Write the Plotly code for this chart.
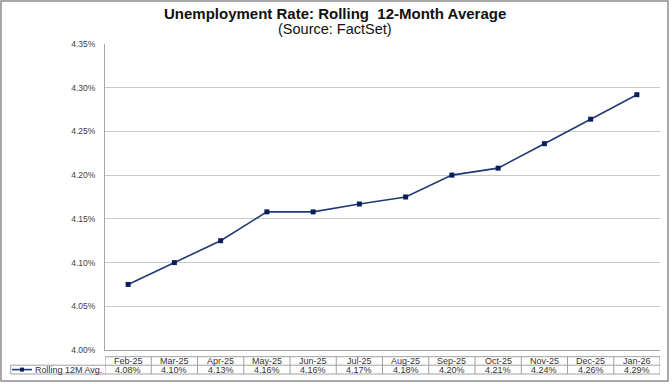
import plotly.graph_objects as go

months = ["Feb-25", "Mar-25", "Apr-25", "May-25", "Jun-25", "Jul-25",
          "Aug-25", "Sep-25", "Oct-25", "Nov-25", "Dec-25", "Jan-26"]
rolling_avg = [4.075, 4.100, 4.125, 4.158, 4.158, 4.167,
               4.175, 4.200, 4.208, 4.236, 4.264, 4.292]
table_labels = ["4.08%", "4.10%", "4.13%", "4.16%", "4.16%", "4.17%",
                "4.18%", "4.20%", "4.21%", "4.24%", "4.26%", "4.29%"]
series_name = "Rolling 12M Avg."
y_ticks = [4.00, 4.05, 4.10, 4.15, 4.20, 4.25, 4.30, 4.35]

W, H = 672, 384
ML, MR, MT, MB = 105, 12, 44, 34
PW, PH = W - ML - MR, H - MT - MB

def px(x):
    return (x - ML) / PW

def py(y):
    return (H - MB - y) / PH

LINE = "#1F3B73"
MARK = "#0B1E5B"
GRID = "#C9C9C9"
TXT = "#333333"
TBL = "#A0A0A0"
FONT = "Liberation Sans, Arial, sans-serif"

fig = go.Figure()
fig.add_trace(go.Scatter(
    x=months, y=rolling_avg, mode="lines+markers", name=series_name,
    line=dict(color=LINE, width=1.6),
    marker=dict(symbol="square", size=5, color=MARK),
    showlegend=False,
))

shapes = []
annotations = []

# outer border
shapes.append(dict(type="rect", xref="paper", yref="paper",
                   x0=px(1), x1=px(668), y0=py(381), y1=py(1),
                   line=dict(color="#8C8C8C", width=1.5), fillcolor="rgba(0,0,0,0)"))

# data table
t_top, t_mid, t_bot = py(356.7), py(365.2), py(374)
shapes.append(dict(type="line", xref="paper", yref="paper", x0=0, x1=1, y0=t_top, y1=t_top,
                   line=dict(color=TBL, width=1)))
shapes.append(dict(type="line", xref="paper", yref="paper", x0=px(10.7), x1=1, y0=t_mid, y1=t_mid,
                   line=dict(color=TBL, width=1)))
shapes.append(dict(type="line", xref="paper", yref="paper", x0=px(10.7), x1=1, y0=t_bot, y1=t_bot,
                   line=dict(color=TBL, width=1)))
shapes.append(dict(type="line", xref="paper", yref="paper", x0=px(10.7), x1=px(10.7), y0=t_bot, y1=t_mid,
                   line=dict(color=TBL, width=1)))
for i in range(len(months) + 1):
    shapes.append(dict(type="line", xref="x", yref="paper", x0=i - 0.5, x1=i - 0.5,
                       y0=t_bot, y1=t_top, line=dict(color=TBL, width=1)))

for m, lab in zip(months, table_labels):
    annotations.append(dict(x=m, y=(t_top + t_mid) / 2, xref="x", yref="paper",
                            text=m, showarrow=False, yanchor="middle",
                            font=dict(size=9, color=TXT, family=FONT)))
    annotations.append(dict(x=m, y=(t_mid + t_bot) / 2, xref="x", yref="paper",
                            text=lab, showarrow=False, yanchor="middle",
                            font=dict(size=9, color=TXT, family=FONT)))

# legend key inside table
shapes.append(dict(type="line", xref="paper", yref="paper", x0=px(12), x1=px(32),
                   y0=(t_mid + t_bot) / 2, y1=(t_mid + t_bot) / 2,
                   line=dict(color=LINE, width=1.6)))
shapes.append(dict(type="rect", xref="paper", yref="paper", x0=px(20), x1=px(24),
                   y0=py(371.6), y1=py(367.6), line=dict(width=0), fillcolor=MARK))
annotations.append(dict(x=px(33), y=(t_mid + t_bot) / 2, xref="paper", yref="paper",
                        text=series_name, showarrow=False, xanchor="left", yanchor="middle",
                        font=dict(size=9, color=TXT, family=FONT)))

# titles
annotations.append(dict(x=px(334.5), y=py(13.5), xref="paper", yref="paper",
                        text="<b>Unemployment Rate: Rolling  12-Month Average</b>",
                        showarrow=False, yanchor="middle",
                        font=dict(size=15, color="#111111", family=FONT)))
annotations.append(dict(x=px(335), y=py(29), xref="paper", yref="paper",
                        text="(Source: FactSet)", showarrow=False, yanchor="middle",
                        font=dict(size=14.5, color="#111111", family=FONT)))

fig.update_layout(
    width=W, height=H,
    margin=dict(l=ML, r=MR, t=MT, b=MB),
    paper_bgcolor="white", plot_bgcolor="white",
    font=dict(family=FONT, color=TXT),
    shapes=shapes, annotations=annotations,
    xaxis=dict(type="category", categoryorder="array", categoryarray=months,
               range=[-0.5, len(months) - 0.5], showticklabels=False,
               showgrid=False, zeroline=False, showline=True,
               linecolor="#A6A6A6", linewidth=1, fixedrange=True),
    yaxis=dict(range=[4.00, 4.35], tickvals=y_ticks,
               ticktext=[f"{v:.2f}%" for v in y_ticks],
               tickfont=dict(size=8.5, color="#404040", family=FONT),
               showgrid=True, gridcolor=GRID, gridwidth=1.2,
               zeroline=False, showline=True, linecolor="#A6A6A6", linewidth=1,
               ticks="", ticklabelstandoff=7, fixedrange=True),
)

fig.write_html("out.html", config={"displayModeBar": False},
               post_script="document.body.style.margin='0';document.body.style.overflow='hidden';")
